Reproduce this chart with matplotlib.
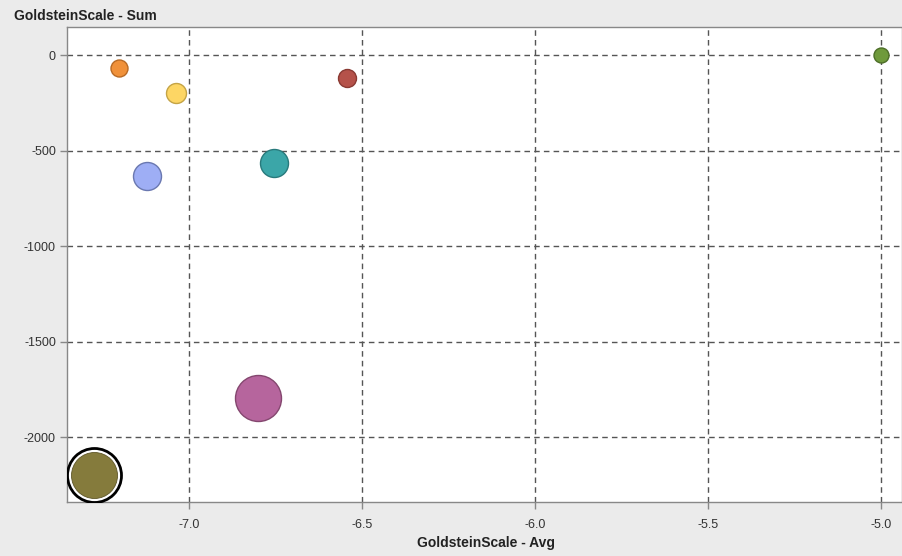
import matplotlib
matplotlib.use("Agg")
import matplotlib.pyplot as plt
import numpy as np

plt.rcParams['font.family'] = ['Liberation Sans', 'DejaVu Sans']

# Data
avg_values = [-7.202, -7.037, -6.542, -5.0, -7.121, -6.755, -6.800, -7.274]
sum_values = [-68, -199, -120, 0, -633, -565, -1796, -2199]
size_values = [30, 60, 40, 10, 140, 140, 320, 340]
fill_colors = ['#f0913a', '#fdd664', '#b5524a', '#6f9a3b', '#9eaef5', '#3ba6a8', '#b6659d', '#857b3c']
edge_colors = ['#b86a25', '#c4a446', '#8a3a33', '#4d6e28', '#6a78b0', '#287a7c', '#84476f', '#5e5628']
selected = [False, False, False, False, False, False, False, True]
x_ticks = [-7.0, -6.5, -6.0, -5.5, -5.0]
y_ticks = [0, -500, -1000, -1500, -2000]

W, H = 902, 556
fig = plt.figure(figsize=(W/100, H/100), dpi=100, facecolor='#ebebeb')
ax = fig.add_axes([67/W, 54/H, (901-67)/W, (502-27)/H])
ax.set_facecolor('white')

ax.set_xlim(-7.352, -4.942)
ax.set_ylim(-2340, 147)

px2pt = 0.72
diam_px = 14 + 0.1*np.array(size_values)
sizes = (diam_px*px2pt)**2

ax.grid(True, color='#555555', linestyle=(0, (4, 3)), linewidth=1)
ax.set_axisbelow(True)

for i in range(len(avg_values)):
    if selected[i]:
        ax.scatter([avg_values[i]], [sum_values[i]], s=((diam_px[i]+6)*px2pt)**2,
                   facecolor='white', edgecolor='black', linewidth=2, zorder=3)
        ax.scatter([avg_values[i]], [sum_values[i]], s=((diam_px[i]-2)*px2pt)**2,
                   facecolor=fill_colors[i], edgecolor=edge_colors[i], linewidth=0.6, zorder=4)
    else:
        ax.scatter([avg_values[i]], [sum_values[i]], s=sizes[i], facecolor=fill_colors[i],
                   edgecolor=edge_colors[i], linewidth=1, zorder=3)

ax.set_xticks(x_ticks)
ax.set_xticklabels(['%.1f' % v for v in x_ticks])
ax.set_yticks(y_ticks)
ax.set_yticklabels([str(v) for v in y_ticks])
ax.tick_params(direction='out', length=5, width=1, color='#888888',
               labelsize=9, labelcolor='#333333', pad=3)
ax.tick_params(axis='x', pad=7)
for s in ax.spines.values():
    s.set_color('#888888')
    s.set_linewidth(1)
ax.spines['right'].set_visible(False)

fig.text(14/W, 1-16/H, 'GoldsteinScale - Sum', fontsize=10, fontweight='bold',
         color='#222222', ha='left', va='center')
fig.text(486/W, 1-543/H, 'GoldsteinScale - Avg', fontsize=10, fontweight='bold',
         color='#222222', ha='center', va='center')

fig.savefig('out.png', dpi=100, facecolor=fig.get_facecolor())
